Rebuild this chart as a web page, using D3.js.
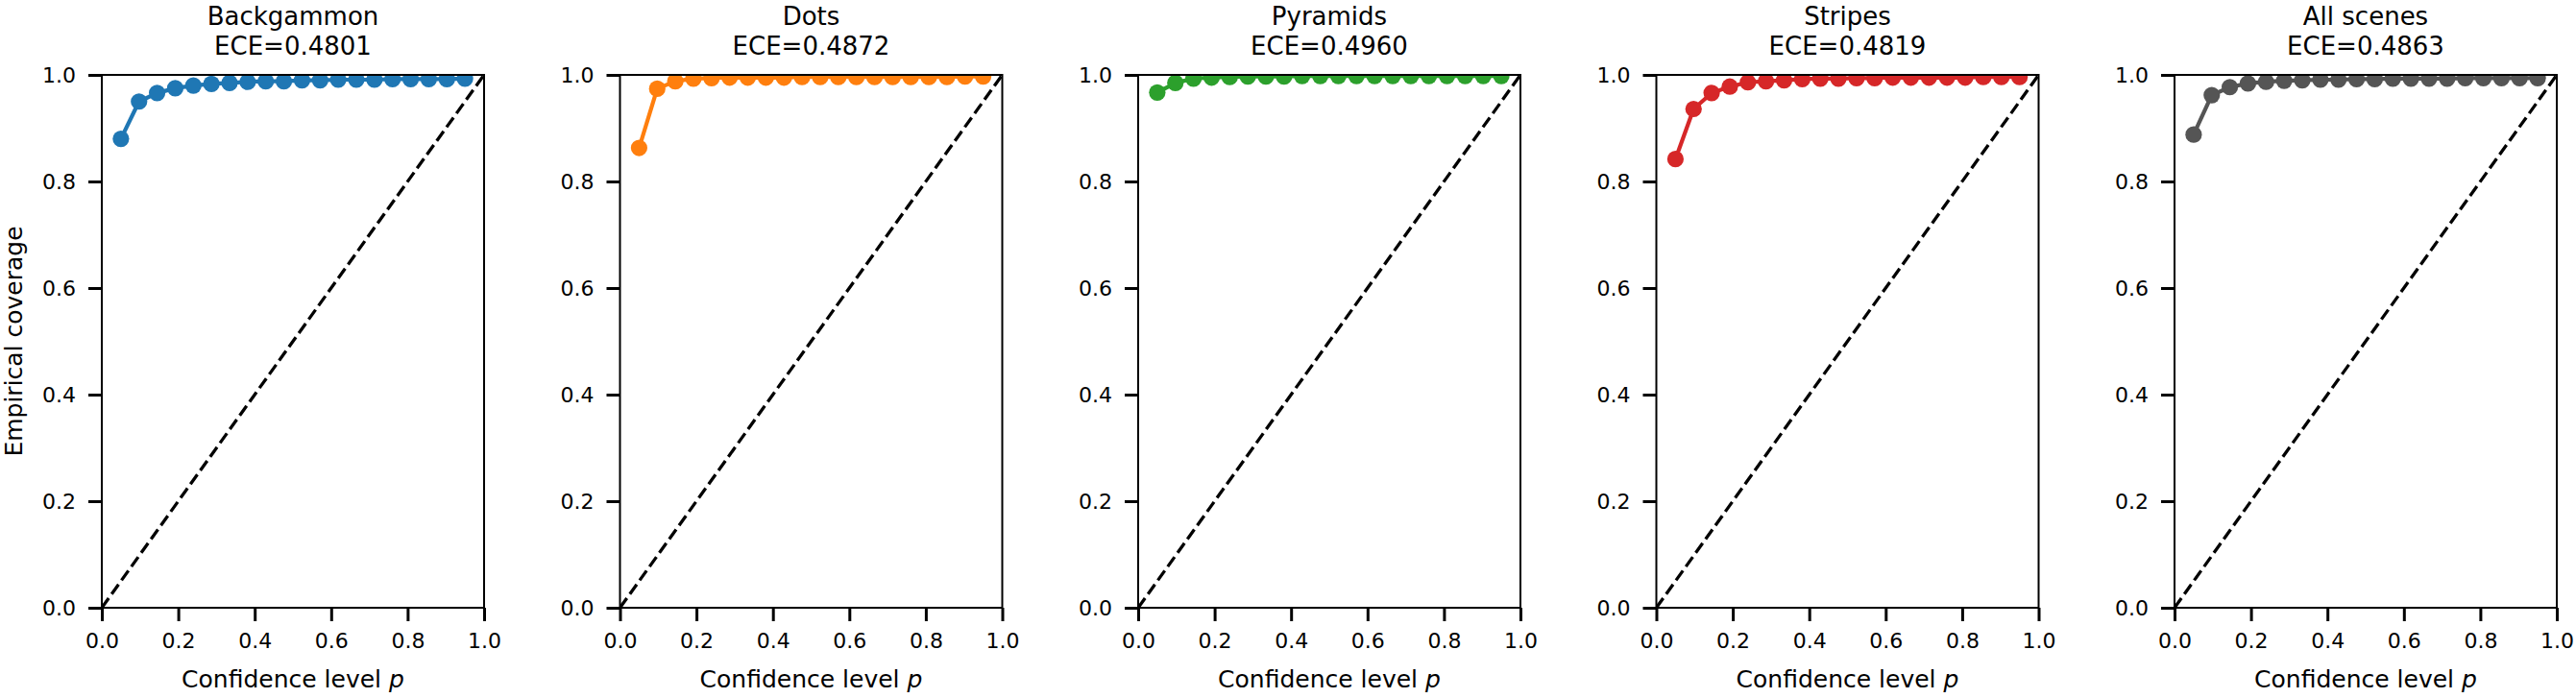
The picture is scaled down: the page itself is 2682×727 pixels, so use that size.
<!DOCTYPE html>
<html>
<head>
<meta charset="utf-8">
<script src="https://cdn.jsdelivr.net/npm/d3@7"></script>
<style>
  body { margin: 0; background: #fff; }
  #chart { width: 2682px; height: 727px; }
  text { font-family: "DejaVu Sans", sans-serif; fill: #000; }
</style>
</head>
<body>
<div id="chart"></div>
<script>

// confidence levels p (20 bins)
const pLevels = [0.05, 0.0974, 0.1447, 0.1921, 0.2395, 0.2868, 0.3342, 0.3816, 0.4289, 0.4763,
                 0.5237, 0.5711, 0.6184, 0.6658, 0.7132, 0.7605, 0.8079, 0.8553, 0.9026, 0.95];

const sceneNames = ["Backgammon", "Dots", "Pyramids", "Stripes", "All scenes"];
const eceValues = ["0.4801", "0.4872", "0.4960", "0.4819", "0.4863"];
const sceneColors = ["#1f77b4", "#ff7f0e", "#2ca02c", "#d62728", "#555555"];

const covBackgammon = [0.880, 0.950, 0.966, 0.975, 0.980, 0.983, 0.985, 0.987, 0.988, 0.988,
                       0.990, 0.990, 0.991, 0.991, 0.991, 0.992, 0.992, 0.992, 0.992, 0.993];
const covDots = [0.863, 0.974, 0.988, 0.993, 0.994, 0.995, 0.995, 0.995, 0.995, 0.996,
                 0.996, 0.996, 0.996, 0.996, 0.996, 0.996, 0.996, 0.996, 0.997, 0.997];
const covPyramids = [0.967, 0.985, 0.993, 0.995, 0.996, 0.997, 0.997, 0.997, 0.998, 0.998,
                     0.998, 0.998, 0.998, 0.998, 0.998, 0.998, 0.998, 0.998, 0.998, 0.998];
const covStripes = [0.842, 0.936, 0.966, 0.978, 0.986, 0.988, 0.990, 0.992, 0.993, 0.993,
                    0.994, 0.994, 0.995, 0.995, 0.995, 0.995, 0.995, 0.996, 0.996, 0.996];
const covAll = [0.888, 0.962, 0.977, 0.984, 0.987, 0.989, 0.990, 0.991, 0.991, 0.992,
                0.992, 0.993, 0.993, 0.993, 0.993, 0.994, 0.994, 0.994, 0.994, 0.994];

const coverage = [covBackgammon, covDots, covPyramids, covStripes, covAll];

const tickValues = [0, 0.2, 0.4, 0.6, 0.8, 1.0];

const width = 2682;
const height = 727;

const svg = d3.select("#chart")
    .append("svg")
    .attr("width", width)
    .attr("height", height);

// layout of the 5 panels
const panelLeft = 106;
const panelStep = 539.5;
const panelW = 398;
const panelTop = 78;
const panelBottom = 633;

const y = d3.scaleLinear().domain([0, 1]).range([panelBottom, panelTop]);

sceneNames.forEach(function(name, i) {

    const x0 = panelLeft + i * panelStep;
    const x = d3.scaleLinear().domain([0, 1]).range([x0, x0 + panelW]);

    const g = svg.append("g");

    const clipId = "clip" + i;
    svg.append("clipPath")
        .attr("id", clipId)
        .append("rect")
        .attr("x", x0)
        .attr("y", panelTop)
        .attr("width", panelW)
        .attr("height", panelBottom - panelTop);

    const plot = g.append("g").attr("clip-path", "url(#" + clipId + ")");

    // diagonal (perfect calibration)
    plot.append("line")
        .attr("x1", x(0)).attr("y1", y(0))
        .attr("x2", x(1)).attr("y2", y(1))
        .attr("stroke", "#000")
        .attr("stroke-width", 3.3)
        .attr("stroke-dasharray", "12.3,5.3");

    const pts = pLevels.map((p, j) => [p, coverage[i][j]]);

    const line = d3.line()
        .x(d => x(d[0]))
        .y(d => y(d[1]));

    plot.append("path")
        .datum(pts)
        .attr("d", line)
        .attr("fill", "none")
        .attr("stroke", sceneColors[i])
        .attr("stroke-width", 4.2)
        .attr("stroke-linejoin", "round");

    plot.selectAll("circle")
        .data(pts)
        .enter()
        .append("circle")
        .attr("cx", d => x(d[0]))
        .attr("cy", d => y(d[1]))
        .attr("r", 8.6)
        .attr("fill", sceneColors[i]);

    // axes
    const xAxis = d3.axisBottom(x)
        .tickValues(tickValues)
        .tickFormat(d3.format(".1f"))
        .tickSize(14)
        .tickPadding(12);

    const yAxis = d3.axisLeft(y)
        .tickValues(tickValues)
        .tickFormat(d3.format(".1f"))
        .tickSize(14)
        .tickPadding(13);

    const gx = g.append("g")
        .attr("transform", "translate(0," + panelBottom + ")")
        .call(xAxis);
    const gy = g.append("g")
        .attr("transform", "translate(" + x0 + ",0)")
        .call(yAxis);

    [gx, gy].forEach(ax => {
        ax.select(".domain").remove();
        ax.selectAll(".tick line").attr("stroke", "#000").attr("stroke-width", 3);
        ax.selectAll(".tick text")
            .attr("font-size", 22)
            .attr("font-family", "DejaVu Sans")
            .attr("fill", "#000");
    });

    // frame
    g.append("rect")
        .attr("x", x0)
        .attr("y", panelTop)
        .attr("width", panelW)
        .attr("height", panelBottom - panelTop)
        .attr("fill", "none")
        .attr("stroke", "#000")
        .attr("stroke-width", 2);

    // title (two lines)
    const cx = x0 + panelW / 2;
    g.append("text")
        .attr("x", cx)
        .attr("y", 26)
        .attr("text-anchor", "middle")
        .attr("font-size", 26)
        .text(name);
    g.append("text")
        .attr("x", cx)
        .attr("y", 57)
        .attr("text-anchor", "middle")
        .attr("font-size", 26)
        .text("ECE=" + eceValues[i]);

    // x label
    const xl = g.append("text")
        .attr("x", cx)
        .attr("y", 716)
        .attr("text-anchor", "middle")
        .attr("font-size", 25);
    xl.append("tspan").text("Confidence level ");
    xl.append("tspan").attr("font-style", "italic").text("p");
});

// y label (only on first panel)
svg.append("text")
    .attr("transform", "translate(23," + ((panelTop + panelBottom) / 2) + ") rotate(-90)")
    .attr("text-anchor", "middle")
    .attr("font-size", 25)
    .text("Empirical coverage");

</script>
</body>
</html>
